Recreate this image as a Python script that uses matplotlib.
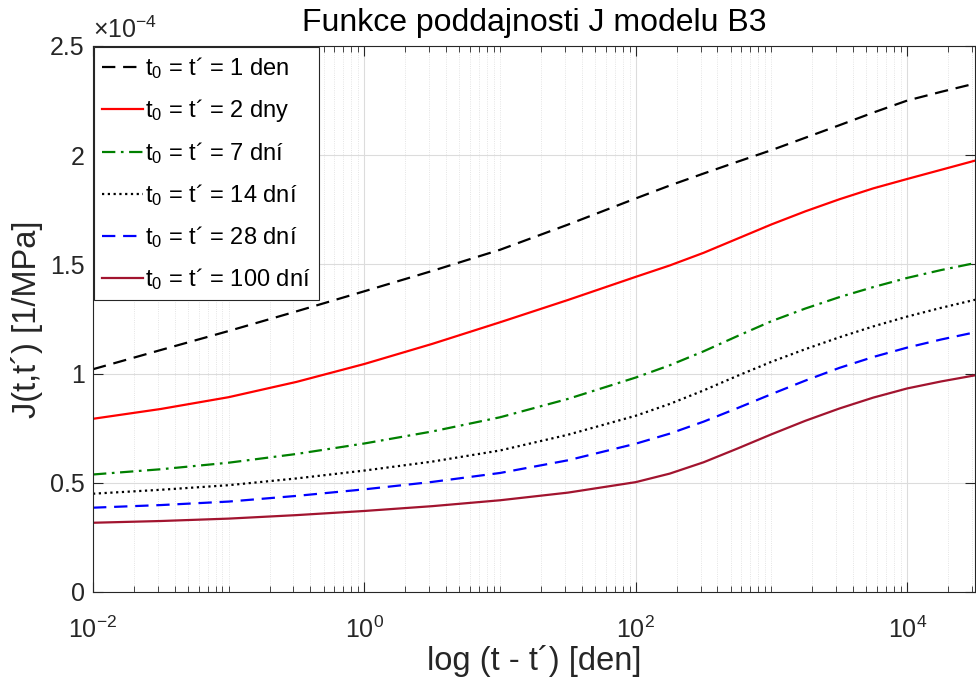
"""Compliance function J of the B3 model for several loading ages."""

import matplotlib
matplotlib.use("Agg")
import matplotlib.pyplot as plt
from matplotlib.ticker import FixedLocator, NullFormatter

plt.rcParams["font.family"] = ["Liberation Sans", "DejaVu Sans"]
plt.rcParams["mathtext.fontset"] = "custom"
plt.rcParams["mathtext.rm"] = "Liberation Sans"
plt.rcParams["mathtext.it"] = "Liberation Sans"

# load duration t - t' [days]: half-decade steps up to 1e2, quarter-decade after
log_duration = [-2, -1.5, -1, -0.5, 0, 0.5, 1, 1.5, 2, 2.25, 2.5, 2.75,
                3, 3.25, 3.5, 3.75, 4, 4.25, 4.5]
duration = [10.0**v for v in log_duration]

# J(t, t') in 1e-4 1/MPa
j_1 = [1.02, 1.108, 1.195, 1.285, 1.377, 1.47, 1.567, 1.682, 1.802, 1.861, 1.916, 1.970,
       2.023, 2.08, 2.137, 2.195, 2.25, 2.29, 2.328]
j_2 = [0.793, 0.838, 0.892, 0.962, 1.044, 1.136, 1.235, 1.337, 1.443, 1.495, 1.553, 1.618,
       1.683, 1.743, 1.798, 1.848, 1.891, 1.933, 1.975]
j_7 = [0.538, 0.562, 0.592, 0.632, 0.68, 0.735, 0.80, 0.884, 0.982, 1.038, 1.102, 1.172,
       1.24, 1.298, 1.35, 1.396, 1.438, 1.474, 1.506]
j_14 = [0.45, 0.468, 0.489, 0.52, 0.556, 0.597, 0.648, 0.72, 0.807, 0.861, 0.923, 0.99,
        1.054, 1.112, 1.166, 1.216, 1.261, 1.301, 1.338]
j_28 = [0.386, 0.398, 0.414, 0.44, 0.47, 0.504, 0.545, 0.603, 0.679, 0.725, 0.78, 0.842,
        0.906, 0.968, 1.026, 1.076, 1.119, 1.156, 1.189]
j_100 = [0.317, 0.325, 0.336, 0.352, 0.371, 0.393, 0.42, 0.455, 0.503, 0.542, 0.594, 0.657,
         0.722, 0.784, 0.84, 0.89, 0.932, 0.964, 0.992]

labels = ["1 den", "2 dny", "7 dní", "14 dní", "28 dní", "100 dní"]

fig = plt.figure(figsize=(9.76, 6.81), dpi=100)
ax = fig.add_axes([0.0953, 0.1307, 0.9037, 0.8018])

styles = [
    dict(color="black", dashes=(6, 3.5)),
    dict(color="#FF0000", linestyle="-"),
    dict(color="#008000", dashes=(6, 2.5, 1.2, 2.5)),
    dict(color="black", dashes=(1, 1.6)),
    dict(color="#0000FF", dashes=(6, 3.5)),
    dict(color="#A2142F", linestyle="-"),
]
series = [j_1, j_2, j_7, j_14, j_28, j_100]

for vals, lab, st in zip(series, labels, styles):
    ax.plot(duration, vals, linewidth=1.6, label=r"$\mathregular{t_0}$ = t´ = " + lab, **st)

ax.set_xscale("log")
ax.set_xlim(1e-2, 10**4.5)
ax.set_ylim(0, 2.5)

ax.xaxis.set_major_locator(FixedLocator([1e-2, 1e0, 1e2, 1e4]))
minor = [m * 10.0**k for k in range(-2, 5) for m in range(1, 10)]
minor = [v for v in minor if v not in (1e-2, 1e0, 1e2, 1e4)]
ax.xaxis.set_minor_locator(FixedLocator(minor))
ax.xaxis.set_minor_formatter(NullFormatter())
ax.set_xticklabels([r"$\mathregular{10^{-2}}$", r"$\mathregular{10^{0}}$",
                    r"$\mathregular{10^{2}}$", r"$\mathregular{10^{4}}$"])
ax.set_yticks([0, 0.5, 1, 1.5, 2, 2.5])
ax.set_yticklabels(["0", "0.5", "1", "1.5", "2", "2.5"])

grey = "#262626"
ax.tick_params(which="both", direction="in", top=True, right=True, colors=grey,
               labelsize=18, labelcolor=grey)
ax.tick_params(which="major", length=7, width=0.8)
ax.tick_params(which="minor", length=4, width=0.6)
ax.tick_params(axis="x", pad=18)
ax.tick_params(axis="y", pad=6)
for sp in ax.spines.values():
    sp.set_color(grey)
    sp.set_linewidth(0.8)

ax.grid(True, which="major", color="#dcdcdc", linewidth=0.8)
ax.grid(True, which="minor", axis="x", color="#dcdcdc", linewidth=0.6, linestyle=":")
ax.set_axisbelow(True)

ax.set_title("Funkce poddajnosti J modelu B3", fontsize=23, color="black", pad=11)
ax.set_xlabel("log (t - t´) [den]", fontsize=23.5, color=grey, labelpad=1)
ax.set_ylabel("J(t,t´) [1/MPa]", fontsize=23.5, color=grey, labelpad=5)
ax.text(0.0, 1.006, r"$\mathregular{\times 10^{-4}}$", transform=ax.transAxes,
        fontsize=18, color=grey, ha="left", va="bottom")

leg = ax.legend(loc="upper left", fontsize=17, handlelength=1.7, handletextpad=0.1,
                borderaxespad=0.05, labelspacing=0.68, borderpad=0.35, fancybox=False,
                framealpha=1)
leg.get_frame().set_edgecolor(grey)
leg.get_frame().set_linewidth(0.8)

fig.savefig("out.png", dpi=100)
